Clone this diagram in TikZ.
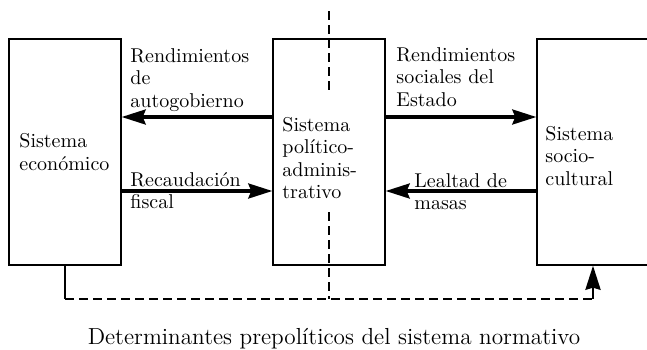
\documentclass[tikz,border=0pt]{standalone}
\usepackage{fontspec}
\usepackage{tikz}
\usetikzlibrary{arrows,arrows.meta,shapes}
\usetikzlibrary{positioning}
\tikzstyle{sysbox} = [draw=black, line width=0.7pt, minimum width=56pt, minimum height=113pt, inner sep=0pt]
\tikzstyle{boxtext} = [align=left, inner sep=0pt, font=\fontsize{10}{11.25}\selectfont]
\tikzstyle{arrowtext} = [align=left, inner sep=0pt, anchor=north west, font=\fontsize{10}{11.25}\selectfont]
\tikzstyle{arrow} = [line width=1.6pt, -{Stealth[length=12pt,width=7.5pt,inset=1.5pt]}]
\tikzstyle{feed} = [line width=1.4pt, dash pattern=on 4.5pt off 2.5pt]

\begin{document}
\begin{tikzpicture}[x=0.5pt, y=-0.5pt]
    \useasboundingbox (0,0) rectangle (647,349);
    % the three systems
    \node[sysbox] (econ) at (65,152) {};
    \node[sysbox] (polit) at (329,152) {};
    \node[sysbox] (socio) at (593,152) {};
    \node[boxtext, anchor=west] (econtext) at (19,152) {Sistema\\económico};
    \node[boxtext, anchor=west] (polittext) at (282,158) {Sistema\\político-\\adminis-\\trativo};
    \node[boxtext, anchor=west] (sociotext) at (545,156) {Sistema\\socio-\\cultural};
    % dashed divider, broken round the text
    \coordinate (divtop) at (329,11);
    \coordinate (gaptop) at (329,94);
    \coordinate (gapbot) at (329,212);
    \coordinate (divbot) at (329,299);
    \draw[feed] (divtop) -- (gaptop);
    \draw[feed] (gapbot) -- (divbot);
    % exchanges
    \draw[arrow] ([yshift=17.5pt]polit.west) -- ([yshift=17.5pt]econ.east);
    \draw[arrow] ([yshift=-19.5pt]econ.east) -- ([yshift=-19.5pt]polit.west);
    \draw[arrow] ([yshift=17.5pt]polit.east) -- ([yshift=17.5pt]socio.west);
    \draw[arrow] ([yshift=-19.5pt]socio.west) -- ([yshift=-19.5pt]polit.east);
    \node[arrowtext] (rendauto) at (130,48) {Rendimientos\\de\\autogobierno};
    \node[arrowtext] (recaud) at (130,172) {Recaudación\\fiscal};
    \node[arrowtext] (rendsoc) at (396,47) {Rendimientos\\sociales del\\Estado};
    \node[arrowtext] (lealtad) at (414,173) {Lealtad de\\masas};
    % prepolitical determinants
    \draw[line width=1.4pt] (econ.south) -- (econ.south |- divbot);
    \draw[feed] (econ.south |- divbot) -- (socio.south |- divbot);
    \draw[line width=1.4pt, -{Stealth[length=12pt,width=7.5pt,inset=1pt]}] (socio.south |- divbot) -- (socio.south);
    \node[anchor=base, font=\fontsize{11.6}{13}\selectfont] (caption) at (334,344) {Determinantes prepolíticos del sistema normativo};
\end{tikzpicture}
\end{document}
